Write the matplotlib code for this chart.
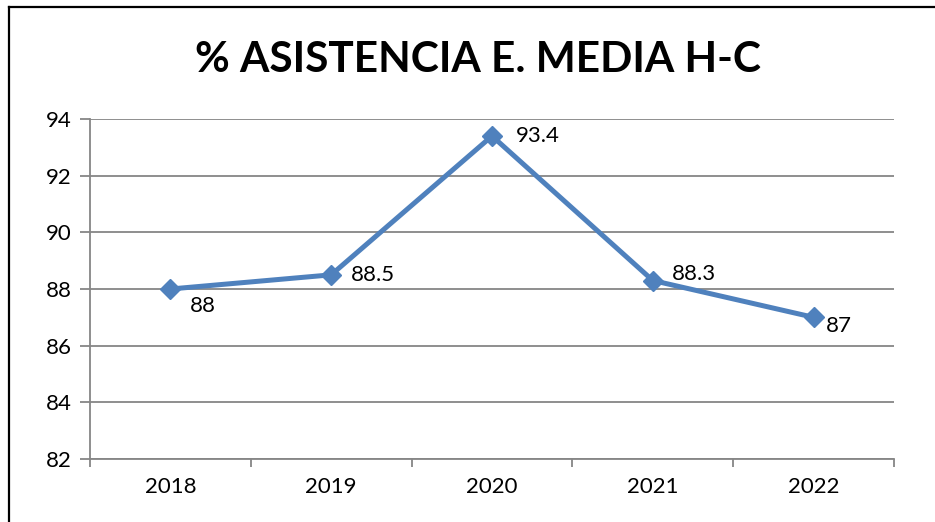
import matplotlib.pyplot as plt
from matplotlib.lines import Line2D

# Data
years = ["2018", "2019", "2020", "2021", "2022"]
asistencia = [88, 88.5, 93.4, 88.3, 87]
value_labels = ["88", "88.5", "93.4", "88.3", "87"]
y_ticks = [82, 84, 86, 88, 90, 92, 94]

# label offsets in points (dx, dy), roughly as Excel placed them
label_offsets = [(14, -12), (14, 0), (17, 0), (14, 5), (9, -6)]

plt.rcParams['font.family'] = ['Lato', 'DejaVu Sans']

fig = plt.figure(figsize=(9.35, 5.22), dpi=100)
ax = fig.add_axes([90 / 935, 1 - 459 / 522, (894 - 90) / 935, (459 - 119) / 522])

x = list(range(len(years)))
ax.plot(x, asistencia, color="#4F81BD", linewidth=3.6, marker="D", markersize=10,
        markerfacecolor="#4F81BD", markeredgecolor="#4F81BD", zorder=3)

for i, (val, lab) in enumerate(zip(asistencia, value_labels)):
    dx, dy = label_offsets[i]
    ax.annotate(lab, (i, val), xytext=(dx, dy), textcoords="offset points",
                ha="left", va="center", fontsize=16, color="black")

ax.set_xlim(-0.5, len(years) - 0.5)
ax.set_ylim(82, 94)
ax.set_yticks(y_ticks)
ax.set_xticks(x)
ax.set_xticklabels(years)
ax.set_xticks([i - 0.5 for i in range(len(years) + 1)], minor=True)
ax.tick_params(axis="x", which="major", length=0, labelsize=16, pad=13)
ax.tick_params(axis="x", which="minor", length=6, color="#868686", width=1.3, direction="out")
ax.tick_params(axis="y", length=7, color="#868686", width=1.3, labelsize=16, pad=6)
ax.grid(axis="y", color="#868686", linewidth=1.3)
ax.set_axisbelow(True)
for s in ["top", "right"]:
    ax.spines[s].set_visible(False)
for s in ["left", "bottom"]:
    ax.spines[s].set_color("#868686")
    ax.spines[s].set_linewidth(1.3)

fig.text(478 / 935, 1 - 60 / 522, "% ASISTENCIA E. MEDIA H-C", ha="center", va="center",
         fontsize=30.5, fontweight="bold")

# chart border (only top and left visible in the crop)
fig.add_artist(Line2D([9 / 935, 9 / 935], [0, 1 - 7 / 522], transform=fig.transFigure,
                      color="black", linewidth=1.6))
fig.add_artist(Line2D([9 / 935, 1], [1 - 7 / 522, 1 - 7 / 522], transform=fig.transFigure,
                      color="black", linewidth=1.6))

fig.savefig("out.png", dpi=100)
